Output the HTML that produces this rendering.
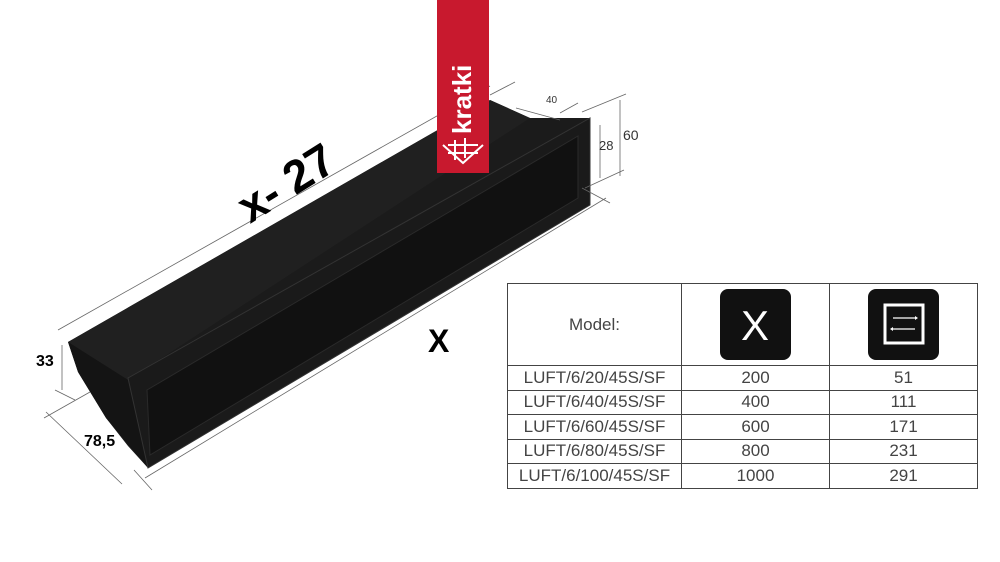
<!DOCTYPE html>
<html><head><style>
body{margin:0;width:1000px;height:562px;background:#fff;position:relative;overflow:hidden;font-family:"Liberation Sans",sans-serif}
table{position:absolute;left:507px;top:283px;border-collapse:collapse;width:471px}
td{border:1.5px solid #444;text-align:center;color:#444;font-size:17px;height:23.5px;padding:0}
.h td{height:81px}
</style></head><body>
<svg width="1000" height="562" style="position:absolute;left:0;top:0">
<polygon points="68,342 490,100 530,118 590,118 590,205 148,468 128,446 106,418 78,372" fill="#1b1b1b"/>
<polygon points="68,342 490,100 530,118 128,380" fill="#202020"/>
<polygon points="68,342 128,380 148,468 106,418 78,372" fill="#141414"/>
<polygon points="128,378 590,118 590,205 148,468" fill="#1a1a1a" stroke="#333" stroke-width="1"/>
<polygon points="147,390 578,136 578,198 150,455" fill="#111" stroke="#2a2a2a"/>
<g stroke="#666" stroke-width="0.8" fill="none">
<line x1="58" y1="330" x2="490" y2="86"/>
<line x1="145" y1="478" x2="606" y2="198"/>
<line x1="134" y1="470" x2="152" y2="490"/>
<line x1="582" y1="188" x2="610" y2="203"/>
<line x1="62" y1="345" x2="62" y2="390"/>
<line x1="55" y1="390" x2="75" y2="400"/>
<line x1="46" y1="412" x2="122" y2="484"/>
<line x1="44" y1="418" x2="90" y2="392"/>
<line x1="516" y1="108" x2="560" y2="120"/>
<line x1="490" y1="95" x2="515" y2="82"/>
<line x1="560" y1="113" x2="578" y2="103"/>
<line x1="600" y1="125" x2="600" y2="178"/>
<line x1="620" y1="100" x2="620" y2="176"/>
<line x1="582" y1="112" x2="626" y2="94"/>
<line x1="585" y1="188" x2="624" y2="170"/>
</g>
<text x="0" y="0" transform="translate(250,224) rotate(-32)" font-size="46" font-weight="bold" fill="#000">x- 27</text>
<text x="428" y="352" font-size="32" font-weight="bold" fill="#000">X</text>
<text x="36" y="366" font-size="16" font-weight="bold" fill="#000">33</text>
<text x="84" y="446" font-size="16" font-weight="bold" fill="#000">78,5</text>
<text x="546" y="103" font-size="10" fill="#333">40</text>
<text x="599" y="150" font-size="13" fill="#333">28</text>
<text x="623" y="140" font-size="14" fill="#333">60</text>
<rect x="437" y="0" width="52" height="173" fill="#c8192e"/>
<text transform="translate(471,134) rotate(-90)" font-size="26" font-weight="bold" fill="#fff">kratki</text>
<g stroke="#fff" stroke-width="2" fill="none">
<polyline points="443,145 463,163 483,145"/>
<line x1="455" y1="140" x2="455" y2="160"/><line x1="465" y1="138" x2="465" y2="158"/>
<line x1="448" y1="145" x2="478" y2="145"/><line x1="448" y1="153" x2="478" y2="153"/>
</g>
<rect x="720" y="289" width="71" height="71" rx="8" fill="#111"/>
<text x="755" y="340" font-size="42" fill="#fff" text-anchor="middle">X</text>
<rect x="868" y="289" width="71" height="71" rx="8" fill="#111"/>
<rect x="885" y="305" width="38" height="38" fill="none" stroke="#fff" stroke-width="3"/>
<g stroke="#fff" stroke-width="1.2"><line x1="893" y1="318" x2="915" y2="318"/><line x1="893" y1="329" x2="915" y2="329"/></g>
<polygon points="915,316 915,320 918,318" fill="#fff"/><polygon points="893,327 893,331 890,329" fill="#fff"/>
</svg>
<table>
<tr class="h"><td style="width:173px">Model:</td><td style="width:147px"></td><td></td></tr>
<tr><td>LUFT/6/20/45S/SF</td><td>200</td><td>51</td></tr>
<tr><td>LUFT/6/40/45S/SF</td><td>400</td><td>111</td></tr>
<tr><td>LUFT/6/60/45S/SF</td><td>600</td><td>171</td></tr>
<tr><td>LUFT/6/80/45S/SF</td><td>800</td><td>231</td></tr>
<tr><td>LUFT/6/100/45S/SF</td><td>1000</td><td>291</td></tr>
</table>
</body></html>
